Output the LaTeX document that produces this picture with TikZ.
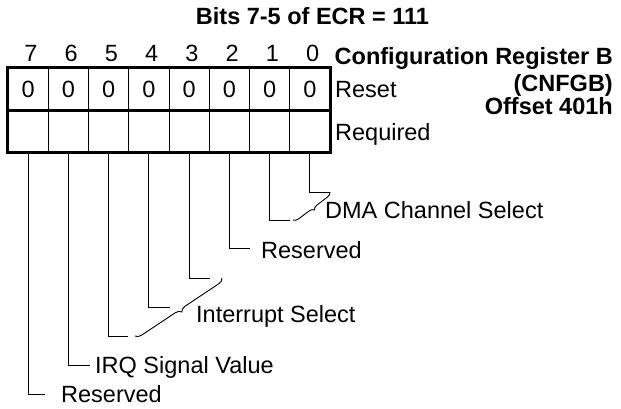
\documentclass[tikz,border=0pt]{standalone}
\usepackage{fontspec}
\setmainfont{Liberation Sans}
\usetikzlibrary{decorations.pathreplacing}

\newcommand{\fs}{\fontsize{23.5}{26}\selectfont}

\begin{document}
\begin{tikzpicture}[x=1pt,y=-1pt,
  testo/.style={font=\fs, inner sep=0pt},
  grassetto/.style={font=\fs\bfseries, inner sep=0pt},
  cella/.style={draw, line width=0.8pt, minimum width=40.25pt, minimum height=42pt, inner sep=0pt, font=\fs},
  guida/.style={line width=0.9pt},
  graffa/.style={line width=0.9pt, decorate, decoration={brace, amplitude=#1}}]

\useasboundingbox (0,0) rectangle (621,409);

% Titolo
\node[grassetto, anchor=base] (titolo) at (312.5,25) {Bits 7-5 of ECR = 111};

% Celle del registro (valori di reset e riga vuota)
\foreach \b [count=\k from 0] in {7,...,0} {
  \node[testo, anchor=base] (n\b) at ({31+40.25*\k},62) {\b};
  \node[cella] (v\b) at ({28.125+40.25*\k},89) {0};
  \node[cella] (q\b) at ({28.125+40.25*\k},131) {};
}

% Bordo spesso
\draw[line width=3pt] (v7.north west) rectangle (q0.south east);
\draw[line width=3pt] (v7.south west) -- (v0.south east);

% Nome del registro
\node[grassetto, anchor=base east] (nome) at (613,65) {Configuration Register B};
\node[grassetto, anchor=base east] (sigla) at (613,92) {(CNFGB)};
\node[grassetto, anchor=base east] (offset) at (613,115) {Offset 401h};
\node[testo, anchor=base west] (reset) at (335,98) {Reset};
\node[testo, anchor=base west] (req) at (335,140) {Required};

% Estremi delle guide
\coordinate (e0) at (330,192);
\coordinate (e1) at (290,220);
\coordinate (e2) at (250,248);
\coordinate (e3) at (210,278);
\coordinate (e4) at (170,307);
\coordinate (e5) at (128,336);
\coordinate (e6) at (90,365);
\coordinate (e7) at (45,394);

\foreach \b in {0,...,7}
  \draw[guida] (q\b.south) |- (e\b);

% Graffe
\draw[graffa=5pt] (e0) -- ([xshift=3pt]e1);
\draw[graffa=6pt] ([xshift=12pt]e3) -- ([xshift=7pt]e5);

% Etichette dei campi
\node[testo, anchor=base west] (dma) at (325,218) {DMA Channel Select};
\node[testo, anchor=base west] (ris2) at (261,258) {Reserved};
\node[testo, anchor=base west] (irq) at (196,322) {Interrupt Select};
\node[testo, anchor=base west] (sig) at (95,373) {IRQ Signal Value};
\node[testo, anchor=base west] (ris7) at (61,402) {Reserved};

\end{tikzpicture}
\end{document}
